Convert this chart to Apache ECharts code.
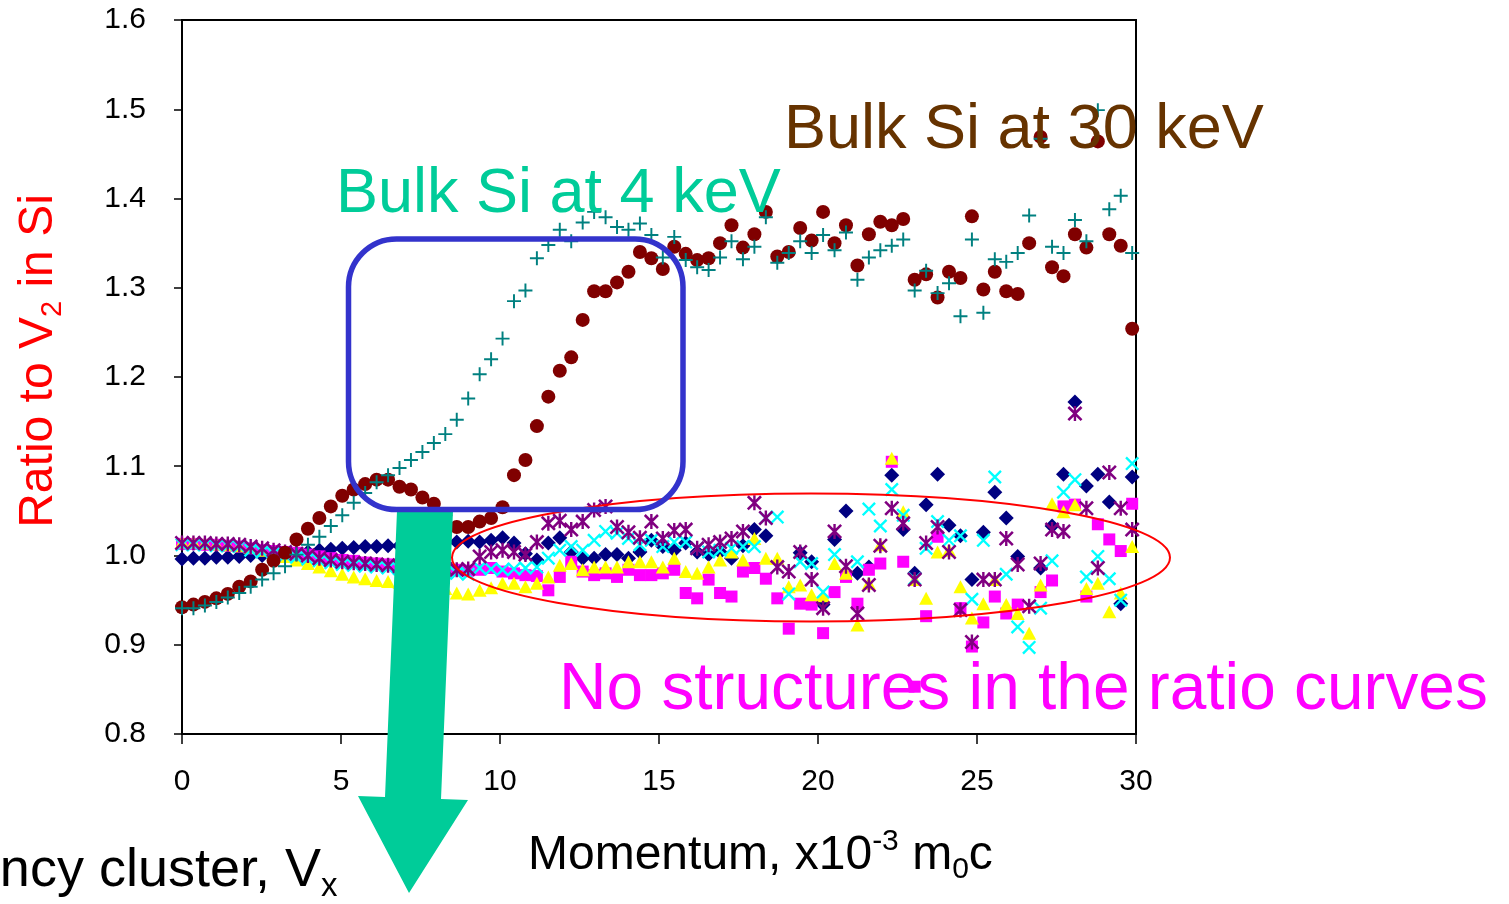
<!DOCTYPE html>
<html>
<head>
<meta charset="utf-8">
<title>Ratio to V2 in Si</title>
<script src="https://cdn.jsdelivr.net/npm/echarts@6/dist/echarts.min.js"></script>
<style>
  html, body { margin: 0; padding: 0; background: #ffffff; }
  #chart { width: 1509px; height: 904px; }
</style>
</head>
<body>
<div id="chart"></div>
<script>
// Momentum grid, x10^-3 m0c
const momentum = [
  0, 0.36, 0.72, 1.08, 1.44, 1.8, 2.16, 2.52, 2.88, 3.24,
  3.6, 3.96, 4.32, 4.68, 5.04, 5.4, 5.76, 6.12, 6.48, 6.84,
  7.2, 7.56, 7.92, 8.28, 8.64, 9.0, 9.36, 9.72, 10.08, 10.44,
  10.8, 11.16, 11.52, 11.88, 12.24, 12.6, 12.96, 13.32, 13.68, 14.04,
  14.4, 14.76, 15.12, 15.48, 15.84, 16.2, 16.56, 16.92, 17.28, 17.64,
  18.0, 18.36, 18.72, 19.08, 19.44, 19.8, 20.16, 20.52, 20.88, 21.24,
  21.6, 21.96, 22.32, 22.68, 23.04, 23.4, 23.76, 24.12, 24.48, 24.84,
  25.2, 25.56, 25.92, 26.28, 26.64, 27.0, 27.36, 27.72, 28.08, 28.44,
  28.8, 29.16, 29.52, 29.88
];

// Vacancy-type samples (ratio curves without structure)
const seriesDiamond = [
  0.996, 0.997, 0.997, 0.998, 0.998, 0.999, 1.000, 1.000, 1.001, 1.002,
  1.003, 1.004, 1.006, 1.007, 1.008, 1.009, 1.010, 1.010, 1.011, 1.011,
  1.012, 1.012, 1.013, 1.014, 1.015, 1.016, 1.015, 1.017, 1.020, 1.014,
  1.002, 0.995, 1.014, 1.020, 1.004, 0.997, 0.997, 1.001, 1.001, 0.997,
  1.004, 1.017, 1.010, 1.006, 1.014, 1.004, 1.001, 1.004, 0.997, 1.011,
  1.029, 1.022, null, null, 1.003, 0.993, 0.945, 1.018, 1.050, 0.980,
  0.987, null, 1.090, 1.029, 0.980, 1.057, 1.091, 1.034, 1.022, 0.973,
  1.026, 1.071, 1.042, 0.999, null, 0.986, 1.033, 1.091, 1.172, 1.078,
  1.091, 1.060, 0.946, 1.088
];
const seriesSquare = [
  1.013, 1.013, 1.012, 1.012, 1.011, 1.010, 1.008, 1.006, 1.005, 1.004,
  1.003, 1.001, 0.999, 0.997, 0.995, 0.994, 0.992, 0.991, 0.990, 0.989,
  0.988, 0.987, 0.986, 0.985, 0.984, 0.983, 0.984, 0.986, 0.982, 0.980,
  0.978, 0.977, 0.961, 0.976, 0.993, 0.982, 0.978, 0.980, 0.976, 0.984,
  0.978, 0.978, 0.980, 0.984, 0.958, 0.952, 0.973, 0.958, 0.954, 0.982,
  0.986, 0.974, 0.952, 0.918, 0.946, 0.945, 0.913, 0.959, 0.976, 0.946,
  0.984, 0.991, 1.105, 0.993, 0.853, 0.932, 1.021, null, 0.941, 0.898,
  0.925, 0.954, 0.935, 0.945, null, 0.959, 0.972, 1.055, 1.057, 0.954,
  1.035, 1.018, 1.005, 1.058
];
const seriesTriangle = [
  1.015, 1.015, 1.014, 1.013, 1.012, 1.011, 1.009, 1.006, 1.003, 0.999,
  0.995, 0.991, 0.987, 0.983, 0.979, 0.976, 0.974, 0.972, 0.971, 0.970,
  0.969, 0.967, 0.965, 0.963, 0.958, 0.957, 0.961, 0.964, 0.969, 0.969,
  0.965, 0.969, 0.976, 0.989, 0.991, 0.984, 0.987, 0.987, 0.987, 0.993,
  0.993, 0.993, 0.987, 0.997, 0.982, 0.980, 0.987, 0.995, 1.004, 0.995,
  1.019, 0.997, 0.997, 0.965, 0.967, 0.956, 0.955, 0.991, 0.980, 0.922,
  0.969, 1.012, 1.109, 1.049, 0.973, 0.952, 1.004, 1.006, 0.965, 0.930,
  0.946, 0.973, 0.945, 0.935, 0.913, 0.967, 1.058, 1.049, 1.057, 0.963,
  0.969, 0.937, 0.958, 1.010
];
const seriesCross = [
  1.012, 1.012, 1.012, 1.011, 1.011, 1.010, 1.006, 1.004, 1.002, 1.000,
  0.998, 0.996, 0.994, 0.992, 0.990, 0.989, 0.988, 0.987, 0.986, 0.985,
  0.984, 0.983, 0.982, 0.981, 0.980, 0.979, 0.986, 0.985, 0.984, 0.985,
  0.986, 0.987, 0.997, 1.006, 1.010, 1.006, 1.017, 1.027, 1.025, 1.019,
  1.012, 1.017, 1.010, 1.015, 1.015, 1.008, 1.004, 1.006, 1.008, 1.010,
  1.010, 1.042, 1.043, 0.957, 0.993, 0.991, 0.959, 1.001, null, 0.993,
  1.052, 1.033, 1.074, 1.045, 0.974, 1.008, 1.038, 1.017, 1.022, 0.951,
  1.017, 1.088, 0.979, 0.920, 0.897, 0.941, 0.994, 1.071, 1.085, 0.976,
  0.999, 0.974, 0.950, 1.103
];
const seriesStar = [
  1.014, 1.014, 1.014, 1.013, 1.013, 1.012, 1.010, 1.008, 1.006, 1.004,
  1.002, 1.000, 0.997, 0.995, 0.993, 0.992, 0.991, 0.990, 0.989, 0.988,
  0.987, 0.986, 0.985, 0.985, 0.984, 0.985, 0.999, 1.004, 1.006, 1.004,
  1.001, 1.015, 1.036, 1.039, 1.029, 1.038, 1.051, 1.055, 1.032, 1.026,
  1.020, 1.038, 1.019, 1.028, 1.029, 1.008, 1.012, 1.015, 1.019, 1.027,
  1.059, 1.042, 0.987, 0.982, 1.004, 0.973, 0.941, 1.027, 0.988, 0.935,
  0.967, 1.011, 1.053, 1.036, 0.973, 1.014, 1.032, 1.004, 0.939, 0.903,
  0.973, 0.973, 1.019, 0.990, 0.943, 0.991, 1.029, 1.027, 1.159, 1.053,
  0.986, 1.093, 1.053, 1.029
];
// Bulk Si references
const bulkSi30keV = [
  0.942, 0.945, 0.948, 0.952, 0.957, 0.965, 0.971, 0.984, 0.994, 1.003,
  1.018, 1.030, 1.042, 1.055, 1.067, 1.074, 1.080, 1.085, 1.085, 1.077,
  1.074, 1.065, 1.058, 1.045, 1.032, 1.032, 1.038, 1.042, 1.054, 1.090,
  1.107, 1.145, 1.178, 1.207, 1.222, 1.264, 1.296, 1.296, 1.306, 1.318,
  1.340, 1.333, 1.321, 1.346, 1.338, 1.331, 1.333, 1.350, 1.370, 1.345,
  1.360, 1.385, 1.335, 1.340, 1.367, 1.353, 1.385, 1.350, 1.370, 1.325,
  1.360, 1.374, 1.370, 1.377, 1.309, 1.315, 1.289, 1.318, 1.311, 1.380,
  1.298, 1.318, 1.296, 1.293, 1.350, 1.469, 1.323, 1.313, 1.360, 1.345,
  1.464, 1.360, 1.347, 1.254
];
const bulkSi4keV = [
  0.941, 0.941, 0.944, 0.948, 0.953, 0.958, 0.965, 0.973, 0.980, 0.988,
  1.001, 1.012, 1.021, 1.033, 1.045, 1.059, 1.070, 1.082, 1.090, 1.098,
  1.107, 1.116, 1.126, 1.136, 1.152, 1.176, 1.203, 1.220, 1.243, 1.285,
  1.297, 1.333, 1.348, 1.365, 1.352, 1.373, 1.385, 1.379, 1.368, 1.365,
  1.372, 1.359, 1.334, 1.357, 1.331, 1.323, 1.320, 1.334, 1.352, 1.332,
  1.346, 1.379, 1.328, 1.339, 1.352, 1.339, 1.359, 1.342, 1.362, 1.309,
  1.334, 1.342, 1.347, 1.354, 1.297, 1.319, 1.294, 1.305, 1.268, 1.354,
  1.272, 1.332, 1.329, 1.339, 1.381, 1.467, 1.346, 1.339, 1.376, 1.352,
  1.499, 1.388, 1.403, 1.339
];

const yTicks = ['0.8', '0.9', '1.0', '1.1', '1.2', '1.3', '1.4', '1.5', '1.6'];
const xTicks = ['0', '5', '10', '15', '20', '25', '30'];

const FONT = '"Liberation Sans", Arial, sans-serif';

// Marker outlines as filled paths
const PLUS = 'path://M43,0H57V43H100V57H57V100H43V57H0V43H43Z';
const CROSS = 'path://M12,0L100,88L88,100L0,12Z M88,0L100,12L12,100L0,88Z';
const STAR = 'path://M12,0L100,88L88,100L0,12Z M88,0L100,12L12,100L0,88Z M42,0L58,0L58,100L42,100Z';

function pairs(values) {
  const out = [];
  values.forEach((v, i) => { if (v !== null) out.push([momentum[i], v]); });
  return out;
}

function scatter(name, values, symbol, size, color) {
  return {
    name, type: 'scatter', data: pairs(values),
    symbol, symbolSize: size,
    itemStyle: { color, opacity: 1 },
    emphasis: { disabled: true },
    silent: true
  };
}

// Text runs with sub/superscripts, laid out along a common baseline
const MID = 0.30;
const measureCtx = document.createElement('canvas').getContext('2d');
function textWidth(str, size) {
  measureCtx.font = size + 'px ' + FONT;
  return measureCtx.measureText(str).width;
}
function textRun(pieces, color) {
  let x = 0;
  const children = [];
  pieces.forEach(([t, s, shift]) => {
    children.push({
      type: 'text', x, y: shift - MID * s, silent: true,
      style: { text: t, font: s + 'px ' + FONT, fill: color, align: 'left', verticalAlign: 'middle' }
    });
    x += textWidth(t, s);
  });
  return { children, width: x };
}
function label(text, x, baseline, size, color) {
  return {
    type: 'text', x, y: baseline - MID * size, z: 30, silent: true,
    style: { text, font: size + 'px ' + FONT, fill: color, align: 'left', verticalAlign: 'middle' }
  };
}

const chart = echarts.init(document.getElementById('chart'), null, { renderer: 'canvas' });

const xTitle = textRun([['Momentum, x10', 48, 0], ['-3', 30, -19], [' m', 48, 0], ['0', 30, 9], ['c', 48, 0]], '#000000');
const yTitle = textRun([['Ratio to V', 48, 0], ['2', 29, 9], [' in Si', 48, 0]], '#FF0000');
const vxMain = textRun([['ncy cluster, V', 54, 0], ['x', 33, 10]], '#000000');
const vxLead = textWidth('ncy cluster, V', 54);

chart.setOption({
  animation: false,
  backgroundColor: '#ffffff',
  grid: {
    left: 182, top: 20, right: 373, bottom: 170,
    show: true, borderColor: '#000000', borderWidth: 2, backgroundColor: 'transparent'
  },
  xAxis: {
    type: 'value', min: 0, max: 30, interval: 5,
    axisLine: { show: true, onZero: false, lineStyle: { color: '#000000', width: 2 } },
    axisTick: { show: true, inside: false, length: 10, lineStyle: { color: '#000000', width: 1.5 } },
    splitLine: { show: false },
    axisLabel: {
      margin: 33, color: '#000000', fontSize: 30, fontFamily: FONT,
      formatter: v => xTicks[Math.round(v / 5)]
    }
  },
  yAxis: {
    type: 'value', min: 0.8, max: 1.6, interval: 0.1,
    axisLine: { show: true, onZero: false, lineStyle: { color: '#000000', width: 2 } },
    axisTick: { show: true, inside: false, length: 8, lineStyle: { color: '#000000', width: 1.5 } },
    splitLine: { show: false },
    axisLabel: {
      margin: 36, color: '#000000', fontSize: 30, fontFamily: FONT,
      formatter: v => yTicks[Math.round((v - 0.8) * 10)]
    }
  },
  series: [
    scatter('Vacancy A', seriesDiamond, 'diamond', [15, 15], '#000080'),
    scatter('Vacancy B', seriesSquare, 'rect', [12, 12], '#FF00FF'),
    scatter('Vacancy C', seriesTriangle, 'triangle', [14, 13], '#FFFF00'),
    scatter('Vacancy D', seriesCross, CROSS, [14, 14], '#00FFFF'),
    scatter('Vacancy E', seriesStar, STAR, [15, 15], '#800080'),
    scatter('Bulk Si 30 keV', bulkSi30keV, 'circle', 14, '#800000'),
    scatter('Bulk Si 4 keV', bulkSi4keV, PLUS, [14, 14], '#008080')
  ],
  graphic: [
    {
      type: 'ellipse', z: 10, silent: true,
      shape: { cx: 811, cy: 557.5, rx: 359, ry: 64 },
      style: { fill: 'none', stroke: '#FF0000', lineWidth: 2 }
    },
    {
      type: 'polygon', z: 11, silent: true,
      shape: { points: [[397, 511], [453, 511], [441, 799], [468, 800], [409, 893], [358, 796], [385, 797]] },
      style: { fill: '#00CC99' }
    },
    {
      type: 'rect', z: 12, silent: true,
      shape: { x: 348.5, y: 239, width: 334.5, height: 270.5, r: 48 },
      style: { fill: 'none', stroke: '#3333CC', lineWidth: 5.5 }
    },
    label('Bulk Si at 4 keV', 336, 214, 63, '#00CC99'),
    label('Bulk Si at 30 keV', 784, 150, 63, '#663300'),
    label('No structures in the ratio curves', 559, 711, 65.8, '#FF00FF'),
    { type: 'group', x: 528, y: 870, z: 30, silent: true, children: xTitle.children },
    { type: 'group', x: 53, y: 361 + yTitle.width / 2, rotation: Math.PI / 2, z: 30, silent: true, children: yTitle.children },
    { type: 'group', x: 321 - vxLead, y: 887, z: 30, silent: true, children: vxMain.children }
  ]
});
</script>
</body>
</html>
